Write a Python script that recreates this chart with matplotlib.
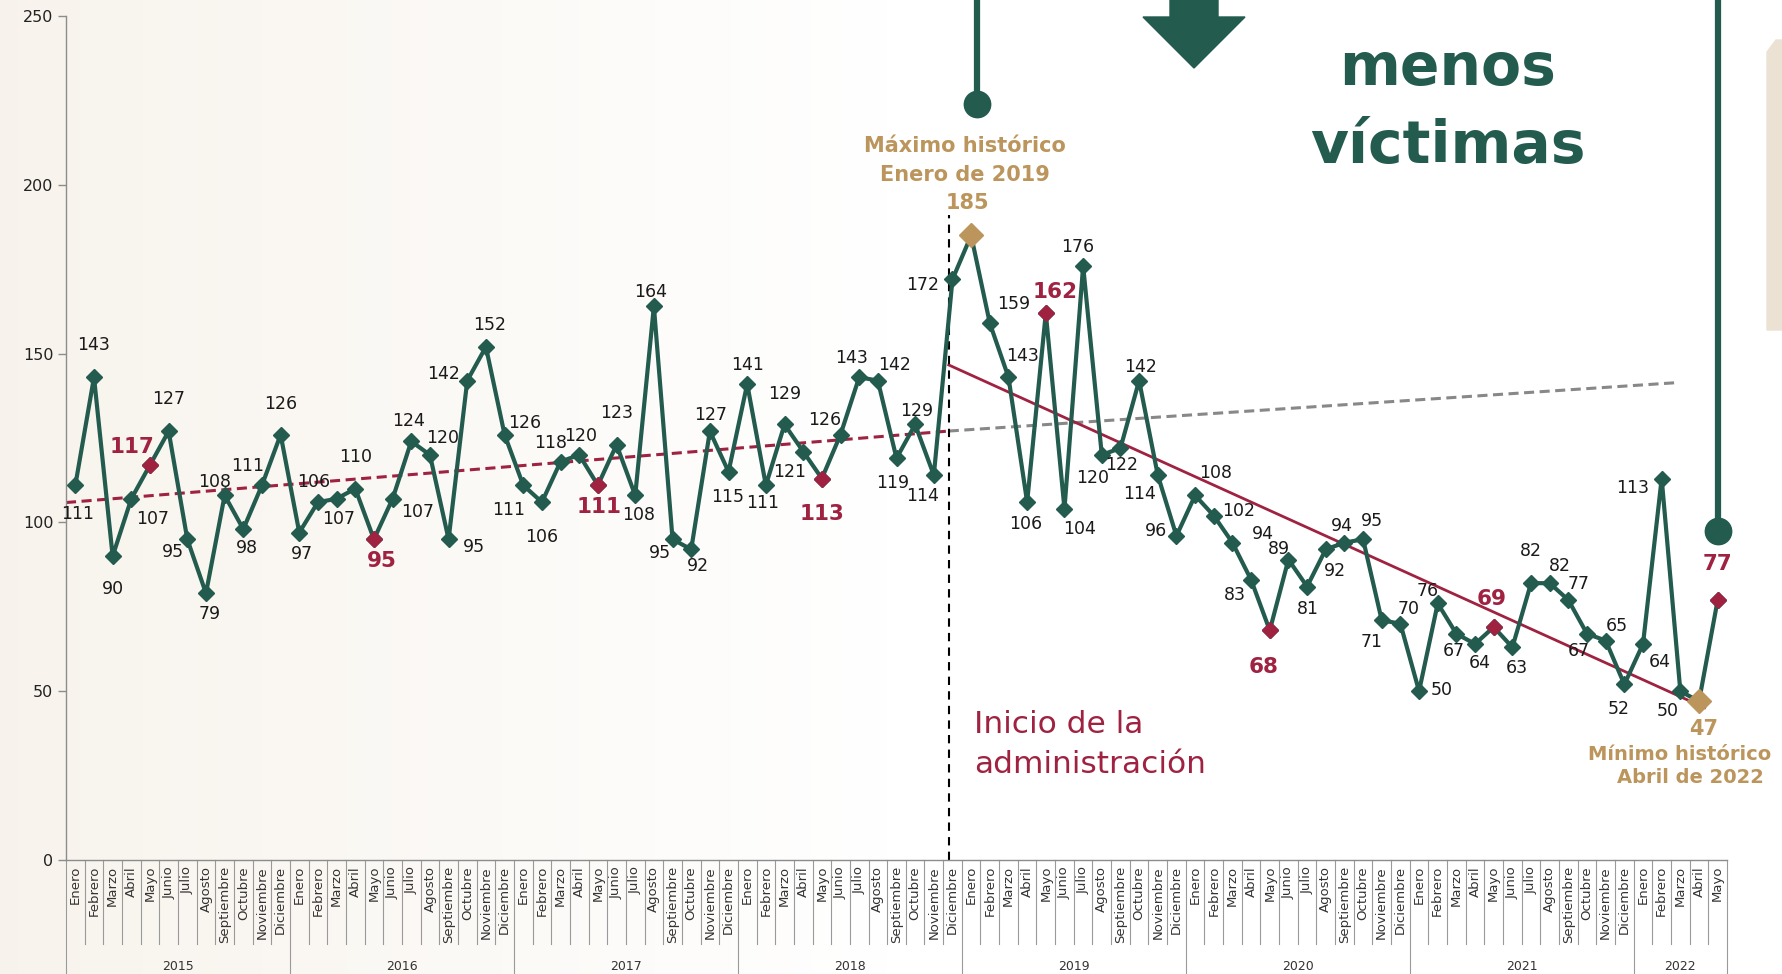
import matplotlib
matplotlib.use("Agg")
import matplotlib.pyplot as plt
import matplotlib.transforms as transforms
from matplotlib.patches import Polygon
import numpy as np

# Colores institucionales
GREEN = "#235B4E"
RED = "#9F2241"
GOLD = "#BC955C"
GRAY = "#9a9a9a"

# Datos: victimas por mes
months = ["Enero", "Febrero", "Marzo", "Abril", "Mayo", "Junio", "Julio",
          "Agosto", "Septiembre", "Octubre", "Noviembre", "Diciembre"]
years = ["2015", "2016", "2017", "2018", "2019", "2020", "2021", "2022"]

v2015 = [111, 143, 90, 107, 117, 127, 95, 79, 108, 98, 111, 126]
v2016 = [97, 106, 107, 110, 95, 107, 124, 120, 95, 142, 152, 126]
v2017 = [111, 106, 118, 120, 111, 123, 108, 164, 95, 92, 127, 115]
v2018 = [141, 111, 129, 121, 113, 126, 143, 142, 119, 129, 114, 172]
v2019 = [185, 159, 143, 106, 162, 104, 176, 120, 122, 142, 114, 96]
v2020 = [108, 102, 94, 83, 68, 89, 81, 92, 94, 95, 71, 70]
v2021 = [50, 76, 67, 64, 69, 63, 82, 82, 77, 67, 65, 52]
v2022 = [64, 113, 50, 47, 77]

by_year = [v2015, v2016, v2017, v2018, v2019, v2020, v2021, v2022]
values = np.array([v for yr in by_year for v in yr])
month_labels = [months[i] for yr in by_year for i in range(len(yr))]
n = len(values)
x = np.arange(n)

admin_start = 47          # Diciembre 2018
admin_line_x = 46.8       # posicion de la linea vertical

# posicion de etiquetas (px de la imagen de referencia, dx derecha / dy arriba)
label_offsets = [
    (2, -25), (0, 28), (0, -29), (19, -18), (-16, 16), (0, 28), (-13, -11), (3, -18), (-9, 12), (3, -17), (-13, 17), (0, 27),
    (2, -19), (-4, 18), (2, -18), (0, 28), (7, -19), (22, -12), (-2, 18), (11, 15), (22, -7), (-21, 6), (3, 19), (18, 10),
    (-13, -22), (0, -31), (-9, 16), (1, 17), (1, -19), (0, 28), (3, -17), (-3, 13), (-11, -12), (6, -15), (1, 14), (-1, -22),
    (0, 17), (-3, -16), (0, 27), (-12, -18), (0, -31), (-14, 13), (-7, 17), (15, 14), (-3, -22), (1, 12), (-10, -18), (-26, -5),
    (-3, 29), (21, 17), (12, 19), (-1, -19), (8, 19), (13, -18), (-5, 17), (-8, -20), (1, -15), (1, 12), (-16, -17), (-18, 4),
    (18, 20), (22, 4), (27, 8), (-14, -13), (-5, -32), (-8, 9), (1, -20), (8, -19), (-2, 15), (8, 16), (-9, -19), (7, 13),
    (20, 1), (-9, 11), (-2, -15), (4, -17), (-2, 25), (4, -18), (0, 28), (9, 15), (9, 14), (-7, -15), (10, 13), (-5, -22),
    (15, -16), (-26, -8), (-11, -17), (5, -24), (0, 32),
]
PX = 0.818  # px (imagen reducida) -> puntos

fig = plt.figure(figsize=(17.82, 9.74), dpi=100)
fig.patch.set_facecolor("white")

# fondo beige tenue a la izquierda
bg = fig.add_axes([0, 0, 1, 1], zorder=-10)
grad = np.clip(1 - np.linspace(0, 1, 400) / 0.5, 0, 1) * 0.55
rgba = np.zeros((10, 400, 4))
rgba[..., 0], rgba[..., 1], rgba[..., 2] = 0.95, 0.92, 0.87
rgba[..., 3] = grad
bg.imshow(rgba, aspect="auto", extent=[0, 1, 0, 1])
bg.set_axis_off()

W, H = 1782.0, 974.0
ax = fig.add_axes([66 / W, 1 - 860 / H, (1727 - 66) / W, (860 - 16) / H])
ax.patch.set_alpha(0)
ax.set_xlim(-0.5, n - 0.5)
ax.set_ylim(0, 250)
ax.set_yticks(range(0, 251, 50))
ax.tick_params(axis="y", length=6, width=1, color="#8c8c8c", labelsize=11.5,
               labelcolor="#222222", pad=3)
ax.set_xticks([])
for s in ["top", "right"]:
    ax.spines[s].set_visible(False)
for s in ["left", "bottom"]:
    ax.spines[s].set_color("#8c8c8c")
    ax.spines[s].set_linewidth(1)

# tabla de meses / anios bajo el eje
trans = transforms.blended_transform_factory(ax.transData, ax.transAxes)
year_edges = np.cumsum([0] + [len(yr) for yr in by_year])
for k in range(n + 1):
    bottom = -0.14 if k in year_edges else -0.1
    ax.plot([k - 0.5, k - 0.5], [0, bottom], transform=trans, color=GRAY,
            lw=0.8, clip_on=False)
for i, m in enumerate(month_labels):
    ax.text(i, -0.007, m, rotation=90, ha="center", va="top", fontsize=9.5,
            color="#333333", transform=trans)
for j, yr in enumerate(years):
    mid = (year_edges[j] + year_edges[j + 1] - 1) / 2
    ax.text(mid, -0.126, yr, ha="center", va="center", fontsize=9,
            color="#333333", transform=trans)

# tendencias
pre_x = x[:admin_start]
a1, b1 = np.polyfit(pre_x, values[:admin_start], 1)
xx = np.array([-0.5, admin_line_x])
ax.plot(xx, a1 * xx + b1, color=RED, lw=2.2, dashes=(3.3, 1.8), zorder=2)
xx = np.array([admin_line_x, 85.7])
ax.plot(xx, a1 * xx + b1 - (xx - admin_line_x) * 0.08, color="#888888",
        lw=2.2, dashes=(3.3, 1.8), zorder=2)
post_x = x[admin_start:n - 1]
a2, b2 = np.polyfit(post_x, values[admin_start:n - 1], 1)
xx = np.array([admin_line_x, 87.3])
ax.plot(xx, a2 * xx + b2, color=RED, lw=2, zorder=2)

ax.plot([admin_line_x, admin_line_x], [0, 191], color="black", lw=1.5,
        dashes=(4, 3), zorder=2)

# serie principal
ax.plot(x, values, color=GREEN, lw=3, marker="D", ms=8, mec=GREEN, mfc=GREEN,
        zorder=4)
may_idx = [i for i, m in enumerate(month_labels) if m == "Mayo"]
imax = int(np.argmax(values))
imin = int(np.argmin(values))
ax.plot(x[may_idx], values[may_idx], ls="none", marker="D", ms=8, color=RED,
        zorder=5)
ax.plot([imax, imin], values[[imax, imin]], ls="none", marker="D", ms=12.5,
        color=GOLD, zorder=5)

for i, v in enumerate(values):
    if i in (imax, imin):
        continue
    dx, dy = label_offsets[i]
    if i in may_idx:
        kw = dict(fontsize=15.5, fontweight="bold", color=RED)
    else:
        kw = dict(fontsize=12.5, color="#1a1a1a")
    ax.annotate(str(v), (i, v), xytext=(dx * PX, dy * PX),
                textcoords="offset points", ha="center", va="center",
                zorder=6, **kw)

gold_kw = dict(textcoords="offset points", ha="center", va="baseline",
               fontsize=15, fontweight="bold", color=GOLD, zorder=6)
vmax, vmin = values[imax], values[imin]
ax.annotate(str(vmax), (imax, vmax), xytext=(-2.5, 18.7), **gold_kw)
ax.annotate("Enero de 2019", (imax, vmax), xytext=(-4.3, 38.9), **gold_kw)
ax.annotate("Máximo histórico", (imax, vmax), xytext=(-4.3, 59.8), **gold_kw)
ax.annotate(str(vmin), (imin, vmin), xytext=(3.6, -24.5), **gold_kw)
gold_kw["fontsize"] = 14
ax.annotate("Mínimo histórico", (imin, vmin), xytext=(-14, -42.5), **gold_kw)
ax.annotate("Abril de 2022", (imin, vmin), xytext=(-6, -59), **gold_kw)

# indicadores verdes (linea + circulo)
ax.plot([imax + 0.3, imax + 0.3], [vmax + 39, 260], color=GREEN, lw=4.5,
        clip_on=False, zorder=6, solid_capstyle="butt")
ax.plot([imax + 0.3], [vmax + 39], marker="o", ms=19, color=GREEN,
        clip_on=False, zorder=6)
last = n - 1
ax.plot([last, last], [values[last] + 20.5, 260], color=GREEN, lw=4.5,
        clip_on=False, zorder=6, solid_capstyle="butt")
ax.plot([last], [values[last] + 20.5], marker="o", ms=19, color=GREEN,
        clip_on=False, zorder=6)

# textos de la administracion
def fpt(px, py):
    return (px / W, 1 - py / H)

fig.text(*fpt(974, 733), "Inicio de la", fontsize=22.5, color=RED)
fig.text(*fpt(974, 773), "administración", fontsize=22.5, color=RED)

# flecha y titulo
arrow = [(1170, 0), (1218, 0), (1218, 17), (1245, 17), (1194, 68), (1143, 17), (1170, 17)]
fig.add_artist(Polygon([fpt(*p) for p in arrow], closed=True, color=GREEN,
                       transform=fig.transFigure))
fig.text(*fpt(1448, 85), "menos", fontsize=42, fontweight="bold", color=GREEN,
         ha="center", va="baseline")
fig.text(*fpt(1448, 163), "víctimas", fontsize=42, fontweight="bold",
         color=GREEN, ha="center", va="baseline")

tab = [(1767, 52), (1776, 40), (1782, 40), (1782, 330), (1767, 330)]
fig.add_artist(Polygon([fpt(*p) for p in tab], closed=True, color="#ece2d3",
                       transform=fig.transFigure))

fig.savefig("out.png", dpi=100)
